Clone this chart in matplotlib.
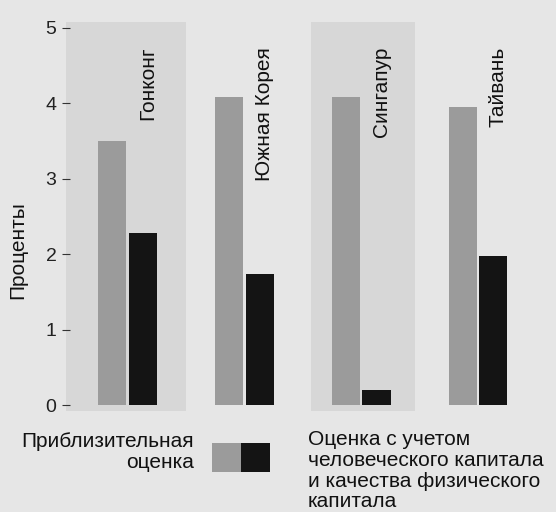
import numpy as np
import matplotlib
matplotlib.use("Agg")
import matplotlib.pyplot as plt

# data
countries = ["Гонконг", "Южная Корея", "Сингапур", "Тайвань"]
rough_estimate = [3.5, 4.08, 4.08, 3.95]
adjusted_estimate = [2.28, 1.74, 0.2, 1.98]
yticks = [0, 1, 2, 3, 4, 5]
legend_left = "Приблизительная\nоценка"
legend_right = "Оценка с учетом\nчеловеческого капитала\nи качества физического\nкапитала"

plt.rcParams['font.family'] = ['Liberation Sans', 'DejaVu Sans']
bg = '#e6e6e6'
panel = '#d7d7d7'
gray = '#9b9b9b'
black = '#141414'
fs = 15

fig = plt.figure(figsize=(5.56, 5.12), dpi=100, facecolor=bg)
# axes: x from 62px to 525px, y zero at 405px, five at 28px
ax = fig.add_axes([62/556, (512-405)/512, (525-62)/556, (405-28)/512])
ax.set_facecolor(bg)

x = np.arange(len(countries))
w = 0.24
off = 0.13

# shaded panels behind first and third country
ax.axvspan(-0.53, 0.5, ymin=-0.015, ymax=1.015, color=panel, lw=0, zorder=0, clip_on=False)
ax.axvspan(1.57, 2.46, ymin=-0.015, ymax=1.015, color=panel, lw=0, zorder=0, clip_on=False)

ax.bar(x - off, rough_estimate, width=w, color=gray, zorder=2)
ax.bar(x + off, adjusted_estimate, width=w, color=black, zorder=2)

for i, name in enumerate(countries):
    ax.text(i + off + 0.04, 4.75, name, rotation=90, ha='center', va='top', fontsize=fs, color='#111111')

ax.set_xlim(-0.56, 3.4)
ax.set_ylim(0, 5)
ax.set_yticks(yticks)
ax.set_yticklabels([str(t) for t in yticks], fontsize=14, color='#222222')
ax.set_xticks([])
ax.tick_params(axis='y', direction='in', length=6, width=0.8, color='#333333', pad=4)
for s in ax.spines.values():
    s.set_visible(False)

fig.text(18/556, 1 - 250/512, "Проценты", rotation=90, ha='center', va='center', fontsize=fs, color='#111111')

# legend at the bottom
fig.text(194/556, 1 - 432/512, legend_left, ha='right', va='top', fontsize=fs, color='#111111', linespacing=1.15)
lax = fig.add_axes([212/556, 1 - 472/512, 58/556, 29/512])
lax.set_xlim(0, 2)
lax.set_ylim(0, 1)
lax.bar([0.5, 1.5], [1, 1], width=1.0, color=[gray, black])
lax.axis('off')
fig.text(308/556, 1 - 430/512, legend_right, ha='left', va='top', fontsize=fs, color='#111111', linespacing=1.12)

fig.savefig("out.png", dpi=100, facecolor=bg)
